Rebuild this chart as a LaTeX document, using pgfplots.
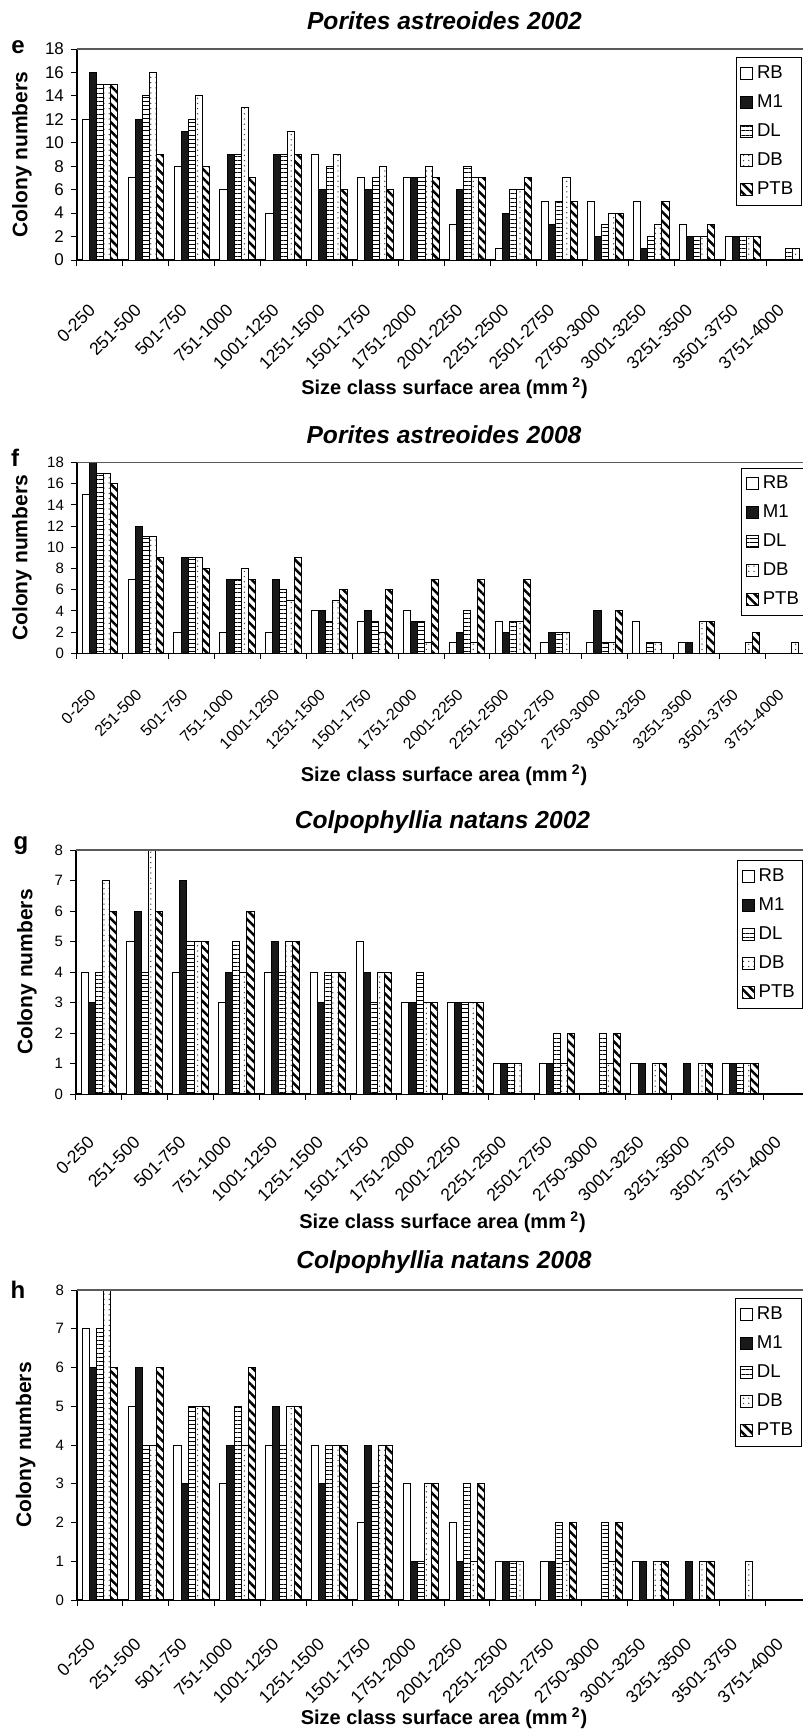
\documentclass[border=0pt]{standalone}
\usepackage{pgfplots}
\pgfplotsset{compat=1.18}
\usepackage{pgfplotstable}
\usetikzlibrary{patterns.meta}
\usepackage{fontspec}
\setmainfont{Liberation Sans}

\pgfplotstableread{
x RB M1 DL DB PTB
0 12 16 15 15 15
1 7 12 14 16 9
2 8 11 12 14 8
3 6 9 9 13 7
4 4 9 9 11 9
5 9 6 8 9 6
6 7 6 7 8 6
7 7 7 7 8 7
8 3 6 8 7 7
9 1 4 6 6 7
10 5 3 5 7 5
11 5 2 3 4 4
12 5 1 2 3 5
13 3 2 2 2 3
14 2 2 2 2 2
15 0 0 1 1 0
}\tabE
\pgfplotstableread{
x RB M1 DL DB PTB
0 15 18 17 17 16
1 7 12 11 11 9
2 2 9 9 9 8
3 2 7 7 8 7
4 2 7 6 5 9
5 4 4 3 5 6
6 3 4 3 2 6
7 4 3 3 1 7
8 1 2 4 1 7
9 3 2 3 3 7
10 1 2 2 2 0
11 1 4 1 1 4
12 3 0 1 1 0
13 1 1 0 3 3
14 0 0 0 1 2
15 0 0 0 1 0
}\tabF
\pgfplotstableread{
x RB M1 DL DB PTB
0 4 3 4 7 6
1 5 6 4 8 6
2 4 7 5 5 5
3 3 4 5 4 6
4 4 5 4 5 5
5 4 3 4 4 4
6 5 4 3 4 4
7 3 3 4 3 3
8 3 3 3 3 3
9 1 1 1 1 0
10 1 1 2 1 2
11 0 0 2 1 2
12 1 1 0 1 1
13 0 1 0 1 1
14 1 1 1 1 1
15 0 0 0 0 0
}\tabG
\pgfplotstableread{
x RB M1 DL DB PTB
0 7 6 7 8 6
1 5 6 4 4 6
2 4 3 5 5 5
3 3 4 5 4 6
4 4 5 4 5 5
5 4 3 4 4 4
6 2 4 3 4 4
7 3 1 1 3 3
8 2 1 3 1 3
9 1 1 1 1 0
10 1 1 2 1 2
11 0 0 2 1 2
12 1 1 0 1 1
13 0 1 0 1 1
14 0 0 0 1 0
15 0 0 0 0 0
}\tabH

\pgfplotsset{
  sqlegend/.style={legend image code/.code={\draw[##1, line width=0.5pt] (1pt,-3pt) rectangle (7pt,3pt);}},
  sRB/.style={fill=white, draw=black, line width=0.5pt, bar shift=-0.31, sqlegend},
  sM1/.style={fill=black!90, draw=black, line width=0.5pt, bar shift=-0.155, sqlegend},
  sDL/.style={draw=black, line width=0.5pt, bar shift=0, pattern={Lines[angle=0, distance=2.1pt, line width=0.45pt]}, pattern color=black, sqlegend},
  sDB/.style={draw=black, line width=0.5pt, bar shift=0.155, pattern={Dots[distance=2.6pt, radius=0.36pt]}, pattern color=black!75, sqlegend},
  sPTB/.style={draw=black, line width=0.5pt, bar shift=0.31, pattern={Lines[angle=-45, distance=3.2pt, line width=1.25pt]}, pattern color=black, sqlegend},
  coral/.style={
    scale only axis,
    ybar, bar width=0.155,
    xmin=-0.5, xmax=15.5, ymin=0,
    xtick={-0.5,0.5,...,15.5},
    x tick label as interval,
    xticklabels={0-250,251-500,501-750,751-1000,1001-1250,1251-1500,1501-1750,1751-2000,2001-2250,2251-2500,2501-2750,2750-3000,3001-3250,3251-3500,3501-3750,3751-4000},
    axis x line*=bottom, axis y line*=left,
    tick align=outside, major tick length=3pt,
    tick style={black, line width=0.5pt},
    axis line style={black, line width=0.6pt},
    /pgf/number format/assume math mode=true,
    ylabel={\bfseries Colony numbers},
    xlabel={\bfseries Size class surface area (mm\textsuperscript{\hspace{0.3em}2})},
    ylabel style={anchor=center, font=\fontsize{10.5}{12}\selectfont},
    xlabel style={at={(axis description cs:0.5,0)}, anchor=center, font=\fontsize{10}{12}\selectfont},
    title style={at={(axis description cs:0.5,1)}, anchor=center, yshift=8pt, font=\fontsize{12.3}{14}\selectfont\bfseries\itshape},
    legend cell align=left,
    legend style={draw=black, line width=0.5pt, font=\fontsize{9.3}{11}\selectfont, inner sep=2pt, row sep=2.6pt, anchor=north west},
    clip=false,
  }
}

\begin{document}
\begin{tikzpicture}
% panel e
\begin{axis}[coral, at={(38.5pt,-130pt)}, anchor=south west, width=367.5pt, height=105.5pt,
  ymax=18, ytick={0,2,...,18},
  yticklabel style={font=\fontsize{8.5}{10}\selectfont},
  xticklabel style={font=\fontsize{8.8}{10}\selectfont, xshift=-1.5pt, yshift=-18pt, rotate=45, anchor=east},
  ylabel style={at={(axis description cs:-0.075,0.5)}},
  xlabel style={yshift=-64pt},
  title={Porites astreoides 2002},
  legend style={at={(rel axis cs:0.896,0.962)}},
]
\addplot[sRB] table[x=x,y=RB]{\tabE}; \addlegendentry{RB}
\addplot[sM1] table[x=x,y=M1]{\tabE}; \addlegendentry{M1}
\addplot[sDL] table[x=x,y=DL]{\tabE}; \addlegendentry{DL}
\addplot[sDB] table[x=x,y=DB]{\tabE}; \addlegendentry{DB}
\addplot[sPTB] table[x=x,y=PTB]{\tabE}; \addlegendentry{PTB}
\draw[black!65, line width=0.6pt] (rel axis cs:0,1) -- (rel axis cs:1,1);
\end{axis}
\node[font=\fontsize{12}{14}\selectfont\bfseries] at (9pt,-23.5pt) {e};

% panel f
\begin{axis}[coral, at={(38.5pt,-326.6pt)}, anchor=south west, width=367pt, height=95.3pt,
  ymax=18, ytick={0,2,...,18},
  yticklabel style={font=\fontsize{7.5}{9}\selectfont},
  xticklabel style={font=\fontsize{8}{9.5}\selectfont, xshift=-1pt, yshift=-14pt, rotate=45, anchor=east},
  ylabel style={at={(axis description cs:-0.075,0.5)}},
  xlabel style={yshift=-61pt},
  title={Porites astreoides 2008},
  legend style={at={(rel axis cs:0.905,0.974)}},
]
\addplot[sRB] table[x=x,y=RB]{\tabF}; \addlegendentry{RB}
\addplot[sM1] table[x=x,y=M1]{\tabF}; \addlegendentry{M1}
\addplot[sDL] table[x=x,y=DL]{\tabF}; \addlegendentry{DL}
\addplot[sDB] table[x=x,y=DB]{\tabF}; \addlegendentry{DB}
\addplot[sPTB] table[x=x,y=PTB]{\tabF}; \addlegendentry{PTB}
\draw[black!65, line width=0.6pt] (rel axis cs:0,1) -- (rel axis cs:1,1);
\end{axis}
\node[font=\fontsize{12}{14}\selectfont\bfseries] at (7.5pt,-229pt) {f};

% panel g
\begin{axis}[coral, at={(38pt,-547pt)}, anchor=south west, width=366.5pt, height=122pt,
  ymax=8, ytick={0,1,...,8},
  yticklabel style={font=\fontsize{7.5}{9}\selectfont},
  xticklabel style={font=\fontsize{8.8}{10}\selectfont, xshift=-1.5pt, yshift=-17pt, rotate=45, anchor=east},
  ylabel style={at={(axis description cs:-0.067,0.5)}},
  xlabel style={yshift=-64pt},
  title={Colpophyllia natans 2002},
  legend style={at={(rel axis cs:0.902,0.959)}},
]
\addplot[sRB] table[x=x,y=RB]{\tabG}; \addlegendentry{RB}
\addplot[sM1] table[x=x,y=M1]{\tabG}; \addlegendentry{M1}
\addplot[sDL] table[x=x,y=DL]{\tabG}; \addlegendentry{DL}
\addplot[sDB] table[x=x,y=DB]{\tabG}; \addlegendentry{DB}
\addplot[sPTB] table[x=x,y=PTB]{\tabG}; \addlegendentry{PTB}
\draw[black!65, line width=0.6pt] (rel axis cs:0,1) -- (rel axis cs:1,1);
\end{axis}
\node[font=\fontsize{12}{14}\selectfont\bfseries] at (10.5pt,-423pt) {g};

% panel h
\begin{axis}[coral, at={(38.5pt,-800pt)}, anchor=south west, width=367pt, height=155pt,
  ymax=8, ytick={0,1,...,8},
  yticklabel style={font=\fontsize{7.5}{9}\selectfont},
  xticklabel style={font=\fontsize{8.8}{10}\selectfont, xshift=-1.5pt, yshift=-15pt, rotate=45, anchor=east},
  ylabel style={at={(axis description cs:-0.07,0.5)}},
  xlabel style={yshift=-59pt},
  title={Colpophyllia natans 2008},
  legend style={at={(rel axis cs:0.897,0.974)}},
]
\addplot[sRB] table[x=x,y=RB]{\tabH}; \addlegendentry{RB}
\addplot[sM1] table[x=x,y=M1]{\tabH}; \addlegendentry{M1}
\addplot[sDL] table[x=x,y=DL]{\tabH}; \addlegendentry{DL}
\addplot[sDB] table[x=x,y=DB]{\tabH}; \addlegendentry{DB}
\addplot[sPTB] table[x=x,y=PTB]{\tabH}; \addlegendentry{PTB}
\draw[black!65, line width=0.6pt] (rel axis cs:0,1) -- (rel axis cs:1,1);
\end{axis}
\node[font=\fontsize{12}{14}\selectfont\bfseries] at (9pt,-645pt) {h};

\pgfresetboundingbox
\path[use as bounding box] (0pt,0pt) rectangle (401.5pt,-865.5pt);
\end{tikzpicture}
\end{document}
